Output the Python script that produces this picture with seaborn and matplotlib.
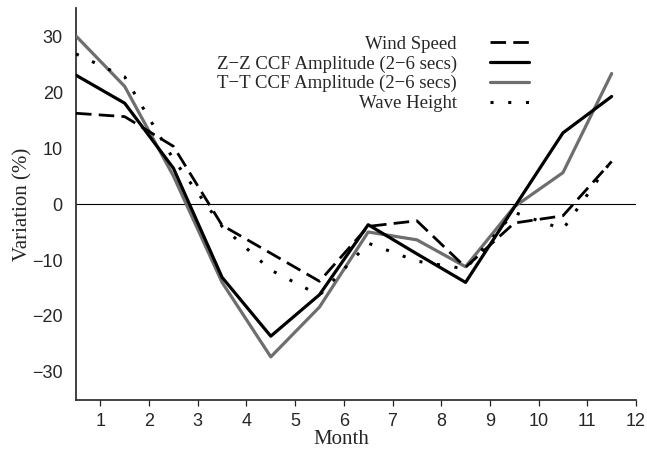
import matplotlib
matplotlib.use("Agg")
import matplotlib.pyplot as plt
import seaborn as sns
import numpy as np

# ---- data ----
months = [0.5, 1.5, 2.5, 3.5, 4.5, 5.5, 6.5, 7.5, 8.5, 9.5, 10.5, 11.5]
wind_speed = [16.2, 15.6, 10.3, -3.8, -8.8, -13.8, -4.0, -3.0, -11.3, -3.4, -2.1, 7.6]
zz_ccf = [23.0, 18.0, 6.4, -13.1, -23.6, -16.2, -3.7, -8.9, -14.0, -0.6, 12.7, 19.2]
tt_ccf = [30.0, 21.0, 5.0, -14.0, -27.3, -18.4, -5.0, -6.4, -11.2, -0.5, 5.6, 23.3]
wave_height = [26.8, 22.7, 8.0, -4.0, -11.8, -16.3, -7.0, -10.2, -11.6, -1.5, -4.5, 7.8]

labels = ["Wind Speed", "Z\u2212Z CCF Amplitude (2\u22126 secs)",
          "T\u2212T CCF Amplitude (2\u22126 secs)", "Wave Height"]
xticks = list(range(1, 13))
yticks = [-30, -20, -10, 0, 10, 20, 30]

sns.set_theme(style="ticks")
plt.rcParams['font.family'] = ['Liberation Serif', 'DejaVu Serif']

fig = plt.figure(figsize=(6.47, 4.51), dpi=100)
ax = fig.add_axes([76/647, 1-400/451, 560/647, 392/451])

ax.axhline(0, color="black", lw=0.8, zorder=1)

sns.lineplot(x=months, y=wind_speed, ax=ax, color="black", lw=2.0,
             linestyle=(0, (5.6, 2.6)), label=labels[0], zorder=4)
sns.lineplot(x=months, y=zz_ccf, ax=ax, color="black", lw=2.3,
             label=labels[1], zorder=5)
sns.lineplot(x=months, y=tt_ccf, ax=ax, color="#6e6e6e", lw=2.3,
             label=labels[2], zorder=3)
sns.lineplot(x=months, y=wave_height, ax=ax, color="black", lw=2.2,
             linestyle=(0, (1.0, 4.8)), label=labels[3], zorder=4,
             dash_capstyle="butt")

ax.set_xlim(0.5, 12)
ax.set_ylim(-35, 35)
ax.set_xticks(xticks)
ax.set_yticks(yticks)
ax.set_xticklabels([str(t) for t in xticks], family="Liberation Sans", fontsize=13)
ax.set_yticklabels([str(t).replace("-", "\u2212") for t in yticks], family="Liberation Sans", fontsize=13)
ax.tick_params(axis="x", length=4.5, width=0.9, pad=4.5, color="#222222")
ax.tick_params(axis="y", length=0, pad=9.5)

for s in ["top", "right"]:
    ax.spines[s].set_visible(False)
for s in ["left", "bottom"]:
    ax.spines[s].set_color("#333333")
    ax.spines[s].set_linewidth(1.3)

ax.set_xlabel("Month", fontsize=15)
ax.set_ylabel("Variation (%)", fontsize=15)
ax.xaxis.set_label_coords(0.473, -0.077)
ax.yaxis.set_label_coords(-0.078, 0.5)

leg = ax.legend(loc="upper right", bbox_to_anchor=(0.809, 0.93), frameon=False,
                markerfirst=False, fontsize=13.5, handlelength=2.1,
                handletextpad=1.75, labelspacing=0.14, borderpad=0, borderaxespad=0)

fig.savefig("out.png", dpi=100)
